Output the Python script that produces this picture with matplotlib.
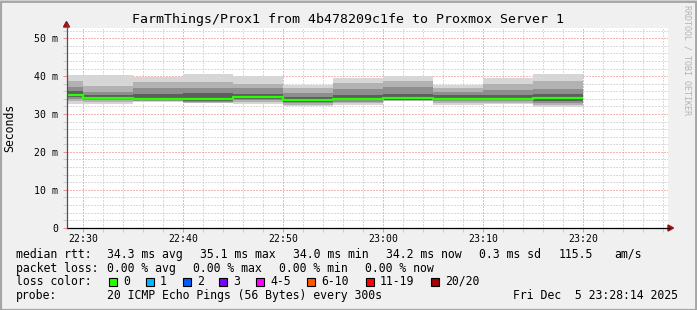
import matplotlib
matplotlib.use("Agg")
import matplotlib.pyplot as plt
from matplotlib.patches import Rectangle, Polygon
from matplotlib.lines import Line2D
from matplotlib.ticker import MultipleLocator

plt.rcParams["font.family"] = "DejaVu Sans Mono"

# Daten (5-Minuten-Bloecke, Werte in ms)
block_start = ["22:25", "22:30", "22:35", "22:40", "22:45", "22:50",
               "22:55", "23:00", "23:05", "23:10", "23:15"]
block_end = "23:20"
median_ms = [35.1, 34.2, 34.0, 34.0, 34.6, 33.7, 34.0, 34.1, 34.0, 34.0, 34.1]

# Rauch (sortierte Pings, aussen -> innen)
ping_max = [40.4, 40.4, 39.7, 40.5, 39.9, 37.7, 39.6, 40.1, 37.7, 39.5, 40.5]
ping_hi2 = [38.6, 37.5, 38.5, 38.5, 38.0, 36.8, 38.3, 38.8, 36.8, 38.0, 38.6]
ping_hi3 = [37.0, 35.8, 36.8, 36.8, 36.8, 35.5, 36.5, 37.0, 35.7, 36.3, 36.6]
ping_hi4 = [36.0, 35.0, 35.2, 35.5, 35.2, 34.5, 35.0, 35.2, 35.0, 35.0, 35.2]
ping_lo4 = [34.4, 33.9, 33.7, 33.5, 33.9, 33.2, 33.6, 33.8, 33.6, 33.6, 33.4]
ping_lo3 = [34.0, 33.6, 33.5, 33.2, 33.6, 32.8, 33.2, 33.6, 33.3, 33.3, 33.0]
ping_lo2 = [33.4, 33.2, 33.3, 33.0, 33.1, 32.4, 32.9, 33.4, 32.9, 33.0, 32.4]
ping_min = [32.7, 32.7, 33.2, 32.8, 32.6, 32.0, 32.5, 33.3, 32.5, 32.6, 31.8]

tick_times = ["22:30", "22:40", "22:50", "23:00", "23:10", "23:20"]
y_ticks = [0, 10, 20, 30, 40, 50]
y_labels = ["0", "10 m", "20 m", "30 m", "40 m", "50 m"]

loss_labels = ["0", "1", "2", "3", "4-5", "6-10", "11-19", "20/20"]
loss_colors = ["#26ff00", "#00b8ff", "#0059ff", "#7e00ff",
               "#ff00ff", "#ff5500", "#ff0000", "#a10000"]


def minutes(t):
    h, m = t.split(":")
    return (int(h) - 22) * 60 + int(m) - 30


edges = [minutes(t) for t in block_start] + [minutes(block_end)]

W, H = 697, 310


def fx(x):
    return x / W


def fy(y):
    return 1 - y / H


fig = plt.figure(figsize=(W / 100, H / 100), dpi=100, facecolor="#f0f0f0")

# Rahmen
fig.patches.append(Rectangle((0, 0), 1, 1, transform=fig.transFigure, fill=False,
                             edgecolor="#cfcfcf", lw=2.5))
fig.patches.append(Rectangle((fx(1), 0), fx(695), fy(2), transform=fig.transFigure,
                             fill=False, edgecolor="#9e9e9e", lw=1.2))

ax_l, ax_r, ax_t, ax_b = 66.5, 668, 28, 227.7
ax = fig.add_axes([fx(ax_l), fy(ax_b), (ax_r - ax_l) / W, (ax_b - ax_t) / H])
ax.set_facecolor("white")

px_per_min = 10.0
ax.set_xlim((ax_l - 83.3) / px_per_min, (ax_r - 83.3) / px_per_min)
ax.set_ylim(0, (ax_b - ax_t) / 3.79)

# Gitter (gepunktet)
ax.xaxis.set_minor_locator(MultipleLocator(2))
ax.yaxis.set_minor_locator(MultipleLocator(2))
ax.set_xticks([minutes(t) for t in tick_times])
ax.set_xticklabels(tick_times)
ax.set_yticks(y_ticks)
ax.set_yticklabels(y_labels)
ax.grid(which="minor", color="#b8b8b8", linestyle=(0, (1, 2)), lw=0.72)
ax.grid(which="major", color="#e87070", linestyle=(0, (1, 2)), lw=0.72)
ax.set_axisbelow(True)
ax.tick_params(which="major", length=3, width=0.72, color="#f09090",
               labelsize=7.1, pad=1.5)
ax.tick_params(which="minor", length=3, width=0.72, color="#cccccc")
ax.tick_params(axis="y", pad=3)
for s in ax.spines.values():
    s.set_visible(False)

# Rauch
layers = [(ping_max, ping_min, "#d6d6d6"),
          (ping_hi2, ping_lo2, "#b2b2b2"),
          (ping_hi3, ping_lo3, "#8e8e8e"),
          (ping_hi4, ping_lo4, "#5e5e5e")]
for hi, lo, col in layers:
    ax.stairs(hi, edges, baseline=lo, fill=True, color=col, lw=0)

ax.stairs(median_ms, edges, baseline=None, color="#26ff00", lw=1.6)

# Achsen mit Pfeilen
fig.add_artist(Line2D([fx(66.5), fx(669)], [fy(228), fy(228)], color="black", lw=0.9))
fig.add_artist(Line2D([fx(66.5), fx(66.5)], [fy(228), fy(24)], color="#505050", lw=0.9))
fig.add_artist(Polygon([[fx(668), fy(225)], [fx(668), fy(231)], [fx(673.5), fy(228)]],
                       closed=True, transform=fig.transFigure, color="#9b1010"))
fig.add_artist(Polygon([[fx(63.5), fy(27)], [fx(69.5), fy(27)], [fx(66.5), fy(21.5)]],
                       closed=True, transform=fig.transFigure, color="#9b1010"))

# Titel und Beschriftung
fig.text(0.5, fy(19), "FarmThings/Prox1 from 4b478209c1fe to Proxmox Server 1",
         ha="center", va="center", fontsize=9.5)
fig.text(fx(10), fy(127.5), "Seconds", rotation=90, ha="center", va="center", fontsize=8.3)
fig.text(fx(687.5), fy(5), "RRDTOOL / TOBI OETIKER", rotation=270, ha="center",
         va="top", fontsize=6, color="#b4b4b4")

# Legende
fs = 8.3
row1 = [(16, "median rtt:"), (107.3, "34.3 ms avg"), (200, "35.1 ms max"),
        (292.7, "34.0 ms min"), (386, "34.2 ms now"), (479.3, "0.3 ms sd"),
        (558.3, "115.5"), (614, "am/s")]
row2 = [(16, "packet loss:"), (107.3, "0.00 % avg"), (193.3, "0.00 % max"),
        (279.3, "0.00 % min"), (365, "0.00 % now")]
row4 = [(16, "probe:"), (107.3, "20 ICMP Echo Pings (56 Bytes) every 300s"),
        (513.3, "Fri Dec  5 23:28:14 2025")]
for y, row in [(254.3, row1), (268.3, row2), (295.7, row4)]:
    for x, s in row:
        fig.text(fx(x), fy(y), s, ha="left", va="center", fontsize=fs)

fig.text(fx(16), fy(281.5), "loss color:", ha="left", va="center", fontsize=fs)
box_x = [109, 145.7, 182.7, 219.3, 256, 306.7, 365.7, 430.7]
for bx, lab, col in zip(box_x, loss_labels, loss_colors):
    fig.patches.append(Rectangle((fx(bx), fy(285.5)), 8 / W, 8 / H,
                                 transform=fig.transFigure, facecolor=col,
                                 edgecolor="black", lw=0.8))
    fig.text(fx(bx + 14.3), fy(281.5), lab, ha="left", va="center", fontsize=fs)

fig.savefig("out.png", dpi=100, facecolor=fig.get_facecolor())
